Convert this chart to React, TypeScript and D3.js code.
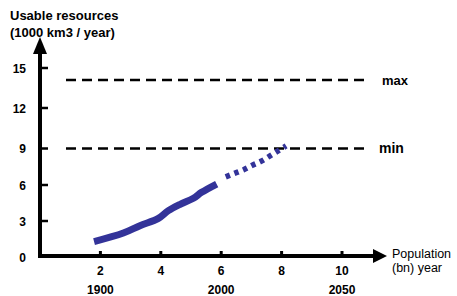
import React from "react";
import * as d3 from "d3";

const W = 457;
const H = 296;

const yTicks = [0, 3, 6, 9, 12, 15];
const xTicks = [2, 4, 6, 8, 10];
const yearLabels = [
  { pop: 2, label: "1900" },
  { pop: 6, label: "2000" },
  { pop: 10, label: "2050" },
];

// Observed usage (solid)
const solidPop = [1.79, 2.76, 3.31, 3.92, 4.25, 4.64, 5.08, 5.35, 5.85];
const solidVal = [1.24, 1.97, 2.6, 3.22, 3.86, 4.39, 4.89, 5.39, 6.08];
// Projection (dotted)
const projPop = [6.15, 6.43, 6.73, 7.03, 7.32, 7.59, 7.87, 8.15];
const projVal = [6.67, 6.95, 7.24, 7.62, 7.95, 8.35, 8.78, 9.19];

const limits = [
  { name: "max", value: 14.1, size: 13 },
  { name: "min", value: 9, size: 14 },
];

const FONT = "'Liberation Sans', Arial, sans-serif";
const BLUE = "#333399";

export default function App() {
  const x = d3.scaleLinear().domain([0, 10]).range([40, 342]);
  const y = d3
    .scaleLinear()
    .domain([0, 3, 6, 9, 12, 15])
    .range([256, 221, 185, 148.5, 108, 68]);

  const line = d3
    .line<[number, number]>()
    .x((d) => x(d[0]))
    .y((d) => y(d[1]))
    .curve(d3.curveCatmullRom.alpha(0.5));

  const solid = solidPop.map((p, i) => [p, solidVal[i]] as [number, number]);
  const proj = projPop.map((p, i) => [p, projVal[i]] as [number, number]);

  const x0 = x(0);
  const y0 = y(0);

  return (
    <svg
      width={W}
      height={H}
      style={{ position: "absolute", left: 0, top: 0, background: "#fff" }}
      fontFamily={FONT}
    >
      <text x={10} y={20} fontSize={13} fontWeight="bold">
        Usable resources
      </text>
      <text x={10} y={37} fontSize={13} fontWeight="bold">
        (1000 km3 / year)
      </text>

      {limits.map((l) => (
        <g key={l.name}>
          <line
            x1={66}
            x2={367}
            y1={y(l.value)}
            y2={y(l.value)}
            stroke="#000"
            strokeWidth={2.5}
            strokeDasharray="10 6"
          />
          <text
            x={l.name === "max" ? 382 : 379}
            y={y(l.value) + 4.5}
            fontSize={l.size}
            fontWeight="bold"
          >
            {l.name}
          </text>
        </g>
      ))}

      <path
        d={line(solid) || ""}
        fill="none"
        stroke={BLUE}
        strokeWidth={7}
        strokeLinecap="butt"
        strokeLinejoin="round"
      />
      <path
        d={line(proj) || ""}
        fill="none"
        stroke={BLUE}
        strokeWidth={5.5}
        strokeDasharray="4.5 4.8"
      />

      <line x1={x0} x2={x0} y1={y0 + 2} y2={50} stroke="#000" strokeWidth={4} />
      <path d={`M${x0},37 L${x0 - 7},54 L${x0 + 7},54 Z`} fill="#000" />
      {yTicks.slice(1).map((t) => (
        <line key={t} x1={x0} x2={x0 + 8} y1={y(t)} y2={y(t)} stroke="#000" strokeWidth={2.5} />
      ))}
      {yTicks.map((t) => (
        <text
          key={"l" + t}
          x={26}
          y={(t === 0 ? 260 : y(t) + 3) + 1.5}
          fontSize={12}
          fontWeight="bold"
          textAnchor="end"
        >
          {t}
        </text>
      ))}

      <line x1={x0 - 2} x2={376} y1={y0} y2={y0} stroke="#000" strokeWidth={4} />
      <path d={`M387,${y0} L373,${y0 - 7} L373,${y0 + 7} Z`} fill="#000" />
      {xTicks.map((t) => (
        <g key={t}>
          <line x1={x(t)} x2={x(t)} y1={y0} y2={y0 - 5} stroke="#000" strokeWidth={3} />
          <text x={x(t)} y={275} fontSize={12} fontWeight="bold" textAnchor="middle">
            {t}
          </text>
        </g>
      ))}
      {yearLabels.map((d) => (
        <text key={d.label} x={x(d.pop)} y={294} fontSize={12} fontWeight="bold" textAnchor="middle">
          {d.label}
        </text>
      ))}
      <text x={392} y={258} fontSize={12.5}>
        Population
      </text>
      <text x={392} y={272} fontSize={12.5}>
        (bn) year
      </text>
    </svg>
  );
}
